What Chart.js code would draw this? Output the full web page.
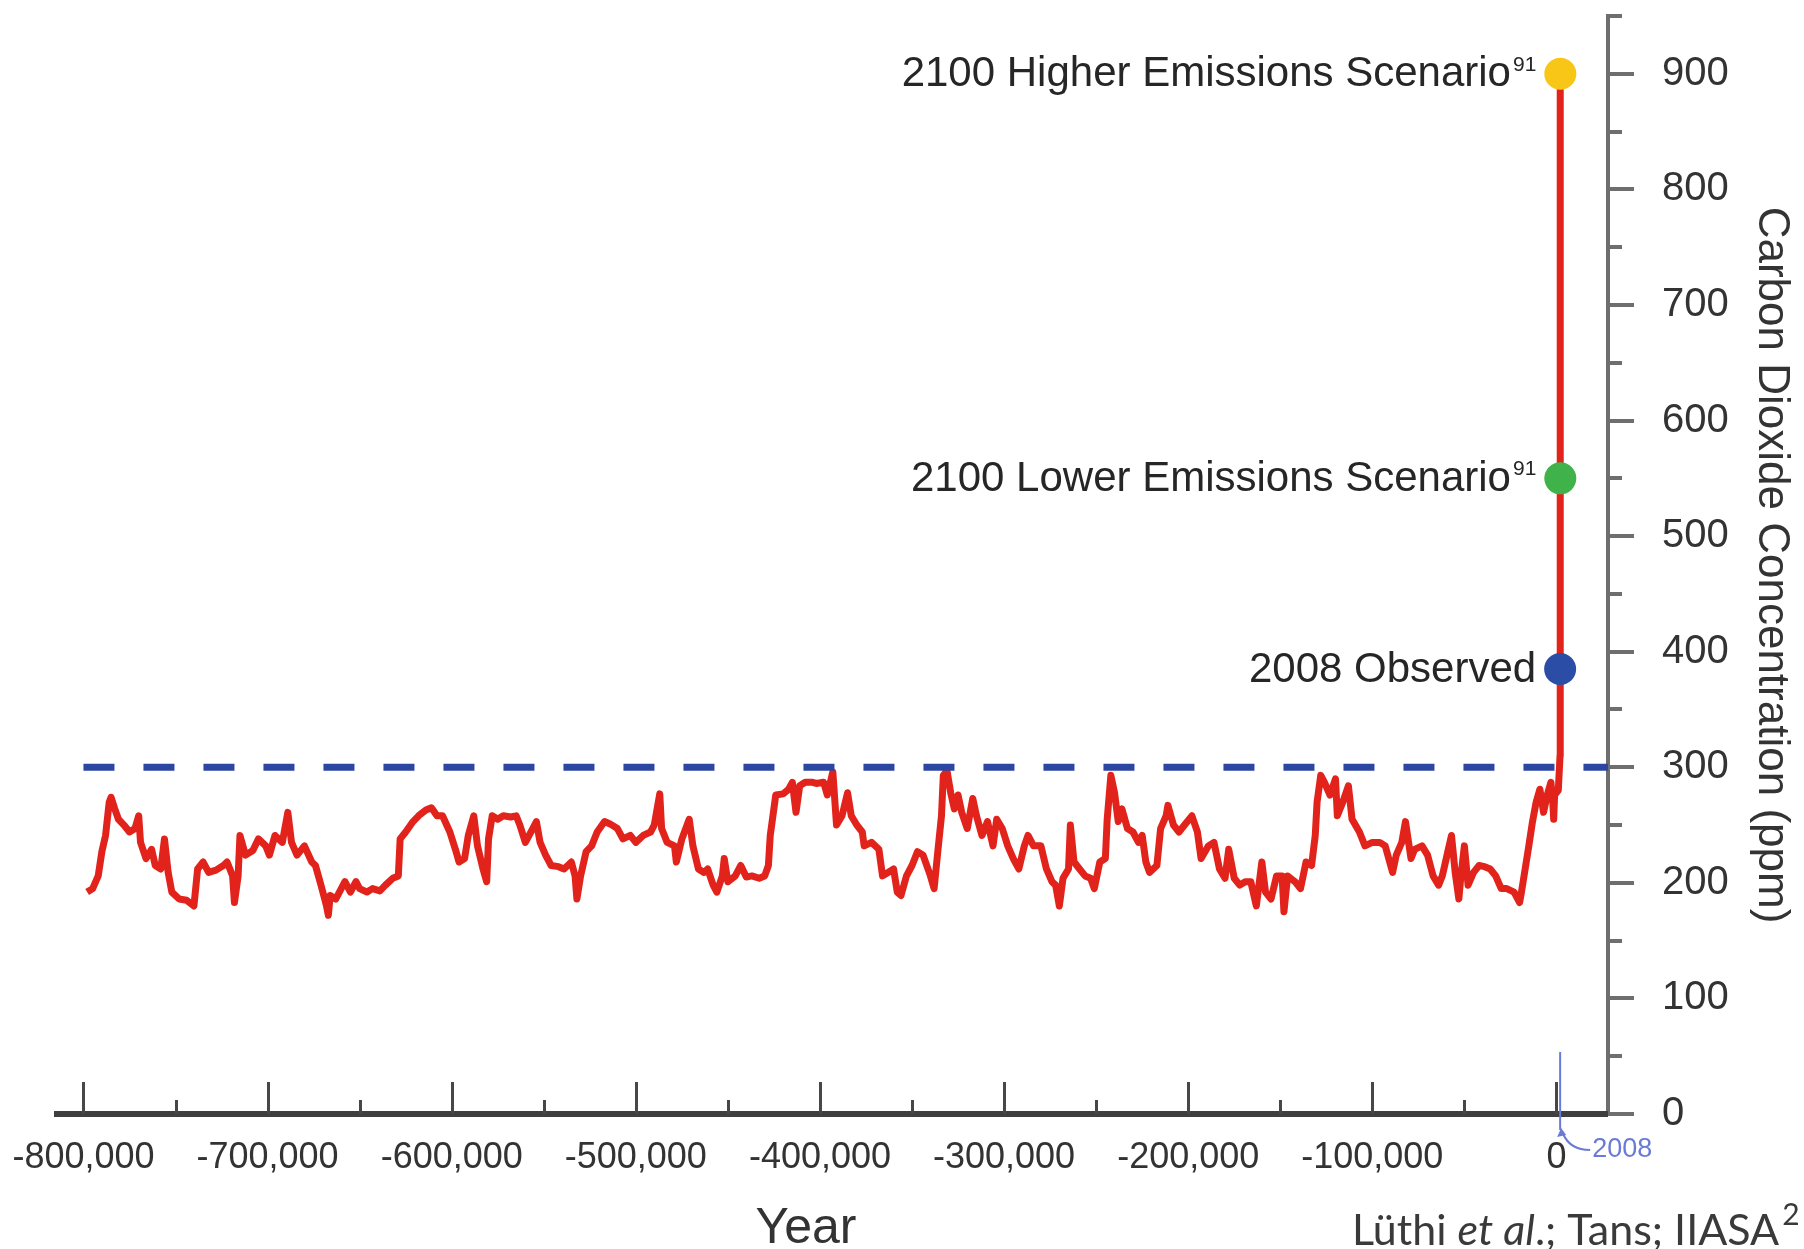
<!DOCTYPE html>
<html>
<head>
<meta charset="utf-8">
<title>Carbon Dioxide Concentration, 800,000 years</title>
<style>
  html, body { margin: 0; padding: 0; background: #ffffff; }
  #wrap { position: relative; width: 1804px; height: 1249px; }
</style>
<script src="https://cdn.jsdelivr.net/npm/chart.js@4.4.1/dist/chart.umd.min.js"></script>
</head>
<body>
<div id="wrap"><canvas id="co2" width="1804" height="1249"></canvas></div>
<script>
// Ice-core record: thousands of years relative to year 0, and CO2 in ppm
const iceCoreKa = [
  -798, -795, -792, -790, -788, -786, -785, -783, -781, -778, -775, -772, -770, -769, -766, -763, -761, -758, -756, -754,
  -752, -748, -744, -740, -738, -735, -732, -728, -724, -722, -719, -718, -716, -715, -712, -708, -705, -701, -699, -696,
  -692, -689, -687, -684, -680, -676, -674, -671, -668, -667, -666, -663, -660, -658, -655, -652, -650, -646, -643, -639,
  -636, -632, -629, -628, -625, -621, -618, -614, -611, -608, -605, -601, -598, -596, -593, -591, -588, -586, -583, -581,
  -580, -578, -575, -572, -568, -565, -563, -560, -556, -554, -552, -549, -546, -542, -539, -535, -533, -532, -530, -527,
  -524, -521, -517, -514, -510, -507, -503, -500, -496, -492, -490, -487, -486, -483, -479, -478, -475, -471, -469, -466,
  -463, -461, -458, -456, -453, -452, -450, -446, -443, -440, -437, -433, -430, -428, -427, -424, -420, -417, -415, -413,
  -411, -408, -404, -402, -398, -396, -393, -391, -388, -385, -383, -380, -377, -376, -372, -368, -366, -363, -360, -358,
  -356, -353, -350, -347, -344, -340, -338, -336, -334, -333, -331, -329, -327, -325, -323, -320, -317, -315, -312, -309,
  -306, -304, -301, -298, -295, -292, -289, -287, -284, -280, -277, -274, -272, -270, -268, -265, -264, -262, -259, -256,
  -253, -251, -248, -245, -244, -242, -240, -238, -236, -233, -230, -227, -225, -223, -221, -219, -217, -215, -212, -211,
  -208, -205, -202, -198, -195, -193, -189, -186, -183, -180, -178, -175, -172, -169, -166, -163, -160, -158, -155, -152,
  -149, -148, -146, -142, -139, -136, -133, -131, -130, -128, -126, -123, -120, -119, -116, -113, -111, -107, -104, -100,
  -96, -93, -89, -87, -84, -82, -79, -77, -73, -70, -67, -64, -62, -59, -57, -55, -53, -52, -50, -48,
  -45, -42, -39, -36, -33, -30, -27, -23, -20, -19, -17, -15, -13, -11, -9, -7, -5, -3, -2, -1.5,
  -1
];
const iceCorePpm = [
  192, 195, 206, 227, 241, 270, 274, 264, 255, 250, 244, 247, 258, 235, 221, 229, 215, 212, 238, 209,
  192, 186, 185, 180, 212, 218, 209, 211, 215, 218, 206, 183, 206, 241, 224, 228, 238, 232, 224, 241,
  235, 261, 235, 224, 232, 218, 215, 198, 180, 172, 189, 186, 195, 201, 192, 201, 195, 192, 195, 193,
  198, 204, 206, 238, 244, 253, 258, 263, 265, 258, 258, 244, 229, 218, 221, 241, 258, 232, 212, 201,
  238, 258, 255, 258, 257, 258, 250, 235, 247, 253, 235, 224, 215, 214, 212, 218, 206, 186, 206, 227,
  232, 244, 253, 251, 247, 238, 241, 235, 241, 244, 250, 277, 247, 235, 232, 218, 238, 255, 232, 212,
  209, 212, 198, 192, 206, 221, 201, 206, 215, 205, 206, 204, 206, 215, 241, 276, 277, 281, 287, 261,
  284, 287, 287, 286, 287, 276, 296, 250, 258, 278, 258, 250, 244, 232, 235, 229, 206, 209, 212, 192,
  189, 206, 215, 227, 224, 206, 195, 227, 258, 293, 297, 278, 264, 276, 261, 247, 273, 258, 241, 253,
  232, 255, 247, 232, 221, 212, 232, 241, 232, 232, 212, 201, 198, 180, 204, 212, 250, 218, 212, 206,
  204, 195, 218, 221, 255, 293, 278, 253, 264, 247, 244, 235, 241, 218, 209, 212, 215, 247, 258, 267,
  250, 244, 250, 258, 244, 221, 232, 235, 212, 204, 229, 204, 198, 201, 201, 180, 218, 192, 186, 206,
  206, 175, 206, 201, 195, 218, 215, 241, 270, 293, 287, 276, 290, 258, 270, 284, 255, 244, 232, 235,
  235, 232, 209, 224, 235, 253, 221, 229, 232, 224, 206, 198, 206, 227, 241, 209, 186, 204, 232, 198,
  209, 215, 214, 212, 206, 195, 195, 192, 183, 192, 212, 232, 253, 270, 281, 261, 276, 287, 270, 255,
  276
];
// Instrumental era and projections, calendar years
const modernYears = [1000, 1950, 2008, 2100];
const modernPpm = [280, 310, 385, 900];

// Highlighted values
const markerYears = [2100, 2100, 2008];
const markerPpm = [900, 550, 385];
const markerLabels = ['2100 Higher Emissions Scenario', '2100 Lower Emissions Scenario', '2008 Observed'];
const markerNotes = ['91', '91', ''];
const markerColors = ['#f8c617', '#3fb34a', '#2b4da6'];

// Dashed reference level
const referencePpm = 300;
const referenceFromYear = -800000;

// Axis ticks
const xTickYears = [-800000, -700000, -600000, -500000, -400000, -300000, -200000, -100000, 0];
const yTickPpm = [0, 100, 200, 300, 400, 500, 600, 700, 800, 900];
const xMinorStep = 50000;
const yMinorStep = 50;

const xTitle = 'Year';
const yTitle = 'Carbon Dioxide Concentration (ppm)';
const observedYearNote = '2008';

const X_MIN = -816000, X_MAX = 28000, Y_MIN = 0, Y_MAX = 950;

const co2Points = iceCoreKa.map((ka, i) => ({ x: ka * 1000, y: iceCorePpm[i] }))
  .concat(modernYears.map((yr, i) => ({ x: yr, y: modernPpm[i] })));
const markerPoints = markerYears.map((yr, i) => ({ x: yr, y: markerPpm[i] }));
const referencePoints = [{ x: referenceFromYear, y: referencePpm }, { x: X_MAX, y: referencePpm }];

const SANS = '"Liberation Sans", Arial, Helvetica, sans-serif';
const TEXT = '#333333';

// Prefer a narrow grotesque for the tight labels when one is installed
const hasNarrow = (() => {
  const c = document.createElement('canvas').getContext('2d');
  c.font = '40px "Liberation Sans Narrow", monospace';
  const a = c.measureText('0123456789').width;
  c.font = '40px monospace';
  const b = c.measureText('0123456789').width;
  return Math.abs(a - b) > 1;
})();
const NARROW = hasNarrow ? '"Liberation Sans Narrow", ' + SANS : SANS;
const xTickSize = hasNarrow ? 44 : 36;
const noteLabelSize = hasNarrow ? 50 : 42;
const yearNoteSize = hasNarrow ? 32 : 27;

// Hand-drawn axis details: inward x ticks, minor ticks, baseline, labels beside the markers
const decorations = {
  id: 'decorations',
  afterDraw(chart) {
    const { ctx, chartArea: a, scales: { x, y } } = chart;
    ctx.save();

    // x baseline
    ctx.strokeStyle = '#3f3f3f';
    ctx.lineWidth = 6;
    ctx.beginPath();
    ctx.moveTo(a.left, a.bottom);
    ctx.lineTo(a.right, a.bottom);
    ctx.stroke();

    // x ticks pointing up into the plot
    ctx.strokeStyle = '#474747';
    ctx.lineWidth = 3;
    for (let v = xTickYears[0]; v <= xTickYears[xTickYears.length - 1]; v += xMinorStep) {
      const px = Math.round(x.getPixelForValue(v)) + 0.5;
      const len = (v % 100000 === 0) ? 32 : 14;
      ctx.beginPath();
      ctx.moveTo(px, a.bottom);
      ctx.lineTo(px, a.bottom - len);
      ctx.stroke();
    }

    // y ticks pointing right
    ctx.strokeStyle = '#6e6e6e';
    ctx.lineWidth = 4;
    for (let v = Y_MIN; v <= Y_MAX; v += yMinorStep) {
      const py = Math.round(y.getPixelForValue(v));
      const len = (v % 100 === 0) ? 26 : 14;
      ctx.beginPath();
      ctx.moveTo(a.right, py);
      ctx.lineTo(a.right + len, py);
      ctx.stroke();
    }

    // 2008 pointer at the present
    const p2008 = x.getPixelForValue(2008);
    ctx.strokeStyle = '#6a7bd6';
    ctx.lineWidth = 2;
    ctx.beginPath();
    ctx.moveTo(p2008, a.bottom - 62);
    ctx.lineTo(p2008, a.bottom + 16);
    ctx.stroke();
    ctx.beginPath();
    ctx.moveTo(p2008 + 30, a.bottom + 36);
    ctx.quadraticCurveTo(p2008 + 10, a.bottom + 36, p2008 + 3, a.bottom + 20);
    ctx.stroke();
    ctx.fillStyle = '#6a7bd6';
    ctx.beginPath();
    ctx.moveTo(p2008 + 1, a.bottom + 14);
    ctx.lineTo(p2008 - 3, a.bottom + 23);
    ctx.lineTo(p2008 + 6, a.bottom + 21);
    ctx.closePath();
    ctx.fill();
    ctx.font = yearNoteSize + 'px ' + NARROW;
    ctx.textAlign = 'left';
    ctx.textBaseline = 'middle';
    ctx.fillText(observedYearNote, p2008 + 32, a.bottom + 36);

    // labels beside the highlighted values
    const mainFont = noteLabelSize + 'px ' + NARROW;
    const noteFont = '21px ' + NARROW;
    ctx.fillStyle = '#262626';
    markerPoints.forEach((p, i) => {
      const px = x.getPixelForValue(p.x);
      const py = y.getPixelForValue(p.y);
      let right = px - 24;
      if (markerNotes[i]) {
        ctx.font = noteFont;
        ctx.textAlign = 'right';
        ctx.textBaseline = 'alphabetic';
        ctx.fillText(markerNotes[i], right, py - 3);
        right -= ctx.measureText(markerNotes[i]).width + 2;
      }
      ctx.font = mainFont;
      ctx.textAlign = 'right';
      ctx.textBaseline = 'middle';
      ctx.fillText(markerLabels[i], right, py + 1);
    });

    // x-axis title
    ctx.font = '50px ' + SANS;
    ctx.textAlign = 'center';
    ctx.textBaseline = 'alphabetic';
    ctx.fillStyle = TEXT;
    ctx.fillText(xTitle, 806, 1243);

    // source line
    const credit = [
      ['Lüthi ', 'normal'], ['et al', 'italic'], ['.; Tans; IIASA', 'normal']
    ];
    const cf = '"Lato", "Open Sans", sans-serif';
    ctx.fillStyle = '#3a3a3a';
    ctx.textAlign = 'left';
    ctx.textBaseline = 'alphabetic';
    let cx = 1352;
    credit.forEach(([t, st]) => {
      ctx.font = st + ' 43px ' + cf;
      ctx.fillText(t, cx, 1245);
      cx += ctx.measureText(t).width;
    });
    ctx.font = '30px ' + cf;
    ctx.fillText('2', cx + 3, 1225);

    ctx.restore();
  }
};

new Chart(document.getElementById('co2'), {
  type: 'scatter',
  data: {
    datasets: [
      {
        label: 'Highlighted values',
        data: markerPoints,
        showLine: false,
        pointRadius: 16,
        pointHoverRadius: 16,
        pointBorderWidth: 0,
        pointBackgroundColor: markerColors,
        pointBorderColor: markerColors
      },
      {
        label: 'Reference level',
        data: referencePoints,
        showLine: true,
        borderColor: '#2c47a2',
        borderWidth: 7,
        borderDash: [31, 29],
        pointRadius: 0
      },
      {
        label: 'CO2',
        data: co2Points,
        showLine: true,
        borderColor: '#e2231b',
        borderWidth: 7,
        borderJoinStyle: 'round',
        pointRadius: 0,
        tension: 0
      }
    ]
  },
  options: {
    responsive: false,
    animation: false,
    devicePixelRatio: 1,
    layout: { padding: { left: 54, top: 14, right: 0, bottom: 0 } },
    plugins: { legend: { display: false }, tooltip: { enabled: false } },
    scales: {
      x: {
        type: 'linear',
        position: 'bottom',
        min: X_MIN,
        max: X_MAX,
        grid: { display: false, drawTicks: false },
        border: { display: false },
        afterBuildTicks: (s) => { s.ticks = xTickYears.map(v => ({ value: v })); },
        afterFit: (s) => { s.height = 135; s.paddingLeft = 0; s.paddingRight = 0; },
        ticks: {
          padding: 22,
          maxRotation: 0,
          autoSkip: false,
          color: TEXT,
          font: { family: NARROW, size: xTickSize },
          callback: (v) => Number(v).toLocaleString('en-US')
        }
      },
      y: {
        type: 'linear',
        position: 'right',
        min: Y_MIN,
        max: Y_MAX,
        grid: { display: false, drawTicks: false },
        border: { display: true, color: '#6e6e6e', width: 4 },
        afterBuildTicks: (s) => { s.ticks = yTickPpm.map(v => ({ value: v })); },
        afterFit: (s) => { s.width = 196; s.paddingTop = 0; s.paddingBottom = 0; },
        ticks: {
          padding: 54,
          autoSkip: false,
          color: TEXT,
          font: { family: SANS, size: 40 },
          callback: (v) => String(v)
        },
        title: {
          display: true,
          text: yTitle,
          color: TEXT,
          font: { family: SANS, size: 44 },
          padding: { top: 6, bottom: 0 }
        }
      }
    }
  },
  plugins: [decorations]
});
</script>
</body>
</html>
